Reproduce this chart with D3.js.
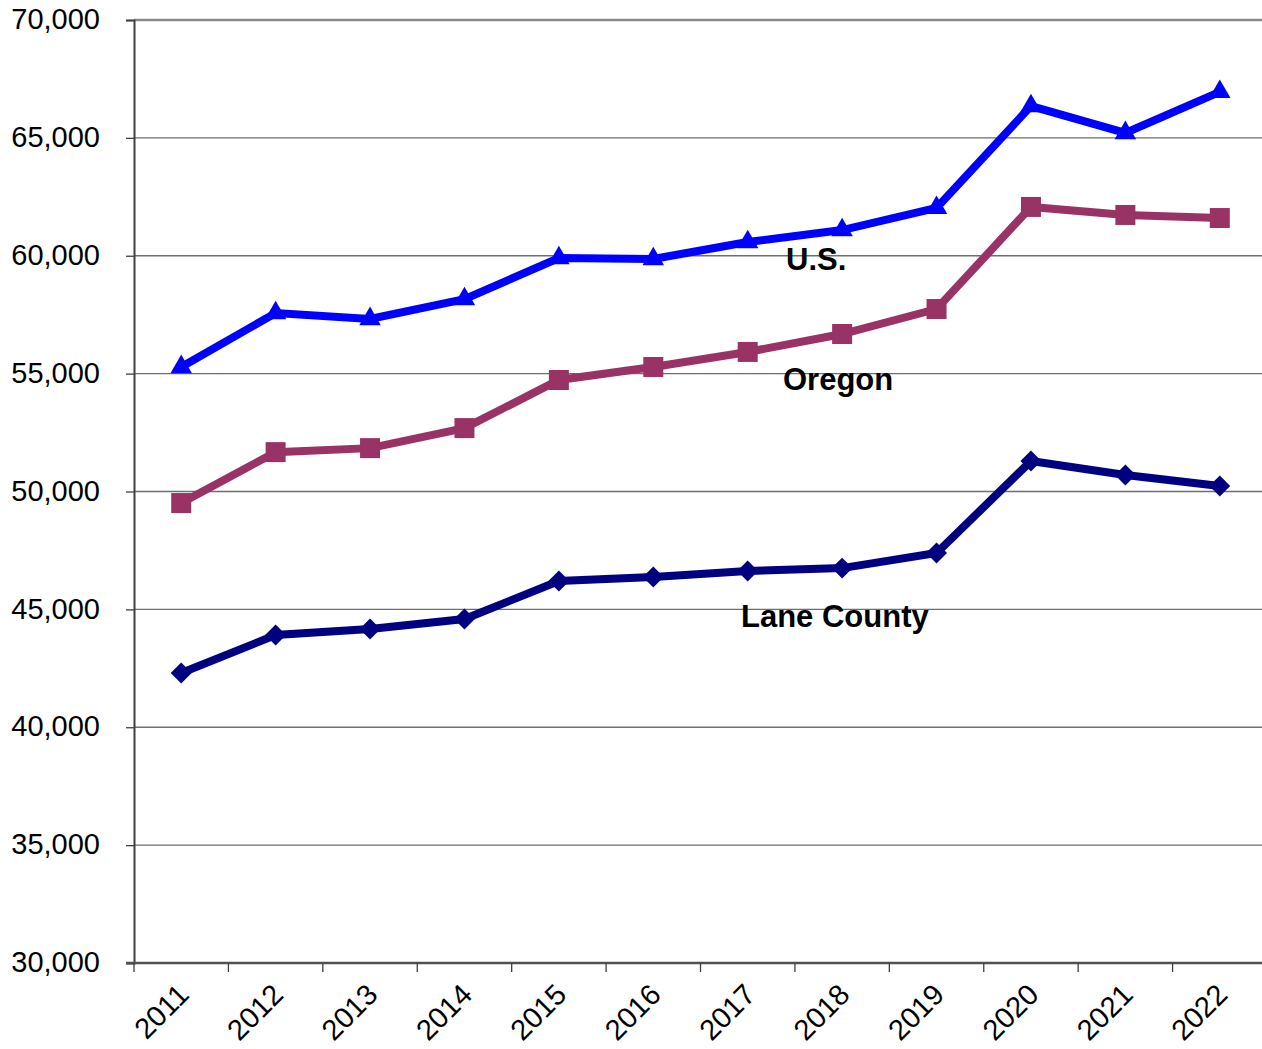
<!DOCTYPE html>
<html>
<head>
<meta charset="utf-8">
<script src="https://cdn.jsdelivr.net/npm/d3@7"></script>
<style>
  html, body { margin: 0; padding: 0; background: #fff; }
  svg { display: block; font-family: "Liberation Sans", Arial, sans-serif; }
</style>
</head>
<body>
<svg id="chart" width="1262" height="1049"></svg>
<script>
// Median household income, 2011–2022
const years = ["2011","2012","2013","2014","2015","2016","2017","2018","2019","2020","2021","2022"];
const usValues     = [55280, 57570, 57320, 58160, 59900, 59860, 60580, 61090, 62030, 66350, 65210, 66950];
const oregonValues = [49510, 51670, 51840, 52690, 54730, 55280, 55920, 56680, 57740, 62070, 61730, 61600];
const laneValues   = [42300, 43910, 44170, 44590, 46200, 46370, 46630, 46750, 47390, 51290, 50700, 50230];
const yTicks = [30000, 35000, 40000, 45000, 50000, 55000, 60000, 65000, 70000];
const seriesNames = ["U.S.", "Oregon", "Lane County"];

const svg = d3.select("#chart");
const W = 1262, H = 1049;
const plotLeft = 134, plotTop = 20, plotW = 1133, plotH = 943;

const x = d3.scaleBand().domain(years).range([plotLeft, plotLeft + plotW]);
const y = d3.scaleLinear().domain([30000, 70000]).range([plotTop + plotH, plotTop]);
const cx = d => x(d) + x.bandwidth() / 2;

// horizontal gridlines
svg.append("g").selectAll("line")
  .data(yTicks.filter(v => v > 30000))
  .join("line")
  .attr("x1", plotLeft).attr("x2", W)
  .attr("y1", d => y(d)).attr("y2", d => y(d))
  .attr("stroke", d => d === 70000 ? "#8a8a8a" : "#6e6e6e")
  .attr("stroke-width", d => d === 70000 ? 2.5 : 1.3);

// y axis
const yAxis = svg.append("g")
  .attr("transform", `translate(${plotLeft},0)`)
  .call(d3.axisLeft(y).tickValues(yTicks).tickFormat(d3.format(",")).tickSize(8).tickPadding(26));
yAxis.select(".domain").attr("stroke", "#404040").attr("stroke-width", 2);
yAxis.selectAll(".tick line").attr("stroke", "#404040").attr("stroke-width", 1.3);
yAxis.selectAll("text").attr("font-size", 29).attr("fill", "#000").attr("dy", "0.3em")
  .attr("font-family", "Liberation Sans, Arial, sans-serif");

// x axis line
const baseY = y(30000);
svg.append("line")
  .attr("x1", plotLeft - 8).attr("x2", W)
  .attr("y1", baseY).attr("y2", baseY)
  .attr("stroke", "#505050").attr("stroke-width", 2.5);

// category tick marks at band edges
const edges = years.map(d => x(d)).concat([plotLeft + plotW]);
svg.append("g").selectAll("line")
  .data(edges)
  .join("line")
  .attr("x1", d => d).attr("x2", d => d)
  .attr("y1", baseY).attr("y2", baseY + 9)
  .attr("stroke", "#404040").attr("stroke-width", 1.3);

// rotated year labels
svg.append("g").selectAll("text")
  .data(years)
  .join("text")
  .attr("transform", d => `translate(${cx(d) - 5},${baseY + 19}) rotate(-45)`)
  .attr("text-anchor", "end")
  .attr("dy", "0.7em")
  .attr("font-size", 29)
  .attr("fill", "#000")
  .text(d => d);

// series lines and markers
const series = [
  { name: seriesNames[0], values: usValues, color: "#0000ff", marker: d3.symbolTriangle, size: 200, rot: 0 },
  { name: seriesNames[1], values: oregonValues, color: "#993366", marker: d3.symbolSquare, size: 400, rot: 0 },
  { name: seriesNames[2], values: laneValues, color: "#000080", marker: d3.symbolSquare, size: 220, rot: 45 }
];

const line = d3.line().x((v, i) => cx(years[i])).y(v => y(v));

series.forEach(s => {
  svg.append("path")
    .datum(s.values)
    .attr("d", line)
    .attr("fill", "none")
    .attr("stroke", s.color)
    .attr("stroke-width", 8)
    .attr("stroke-linejoin", "miter");
  svg.append("g").selectAll("path")
    .data(s.values)
    .join("path")
    .attr("transform", (v, i) => `translate(${cx(years[i])},${y(v)}) rotate(${s.rot})`)
    .attr("d", d3.symbol().type(s.marker).size(s.size))
    .attr("fill", s.color);
});

// series labels
const labels = [
  { text: seriesNames[0], x: 786, y: 270 },
  { text: seriesNames[1], x: 783, y: 390 },
  { text: seriesNames[2], x: 741, y: 627 }
];
svg.append("g").selectAll("text")
  .data(labels)
  .join("text")
  .attr("x", d => d.x).attr("y", d => d.y)
  .attr("font-size", 31)
  .attr("font-weight", "bold")
  .attr("fill", "#000")
  .text(d => d.text);
</script>
</body>
</html>
